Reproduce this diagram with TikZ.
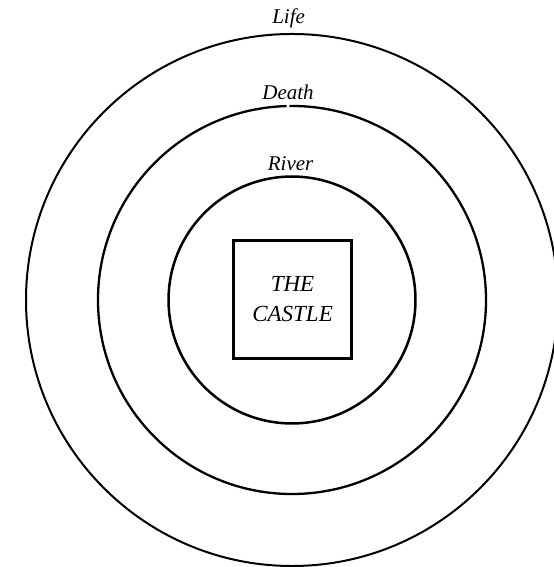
\documentclass[tikz,border=0pt]{standalone}
\usepackage{fontspec}
\setmainfont{Liberation Serif}
\usepackage{tikz}
\tikzset{
  ring/.style={black,line width=2pt},
  burg/.style={draw=black,line width=2.8pt,minimum width=4.15cm,minimum height=4.15cm,
    align=center,font=\fontsize{23}{30}\selectfont\itshape},
  lbl/.style={font=\fontsize{21}{24}\selectfont\itshape,inner sep=0pt},
}
\begin{document}
\begin{tikzpicture}
  \useasboundingbox (-10.264,-9.385) rectangle (9.174,10.545);
  \draw[ring] (0,0) circle[radius=9.35];
  \draw[ring,line width=2.3pt] (91.6:6.82) arc[start angle=91.6,end angle=450.8,radius=6.82];
  \draw[ring,line width=2.5pt] (0,0) circle[radius=4.34];
  \node[burg] (castle) at (0.02,0.03) {THE\\CASTLE};
  \node[lbl] (life) at (-0.12,9.91) {Life};
  \node[lbl] (death) at (-0.14,7.29) {Death};
  \node[lbl] (river) at (-0.05,4.80) {River};
\end{tikzpicture}
\end{document}
